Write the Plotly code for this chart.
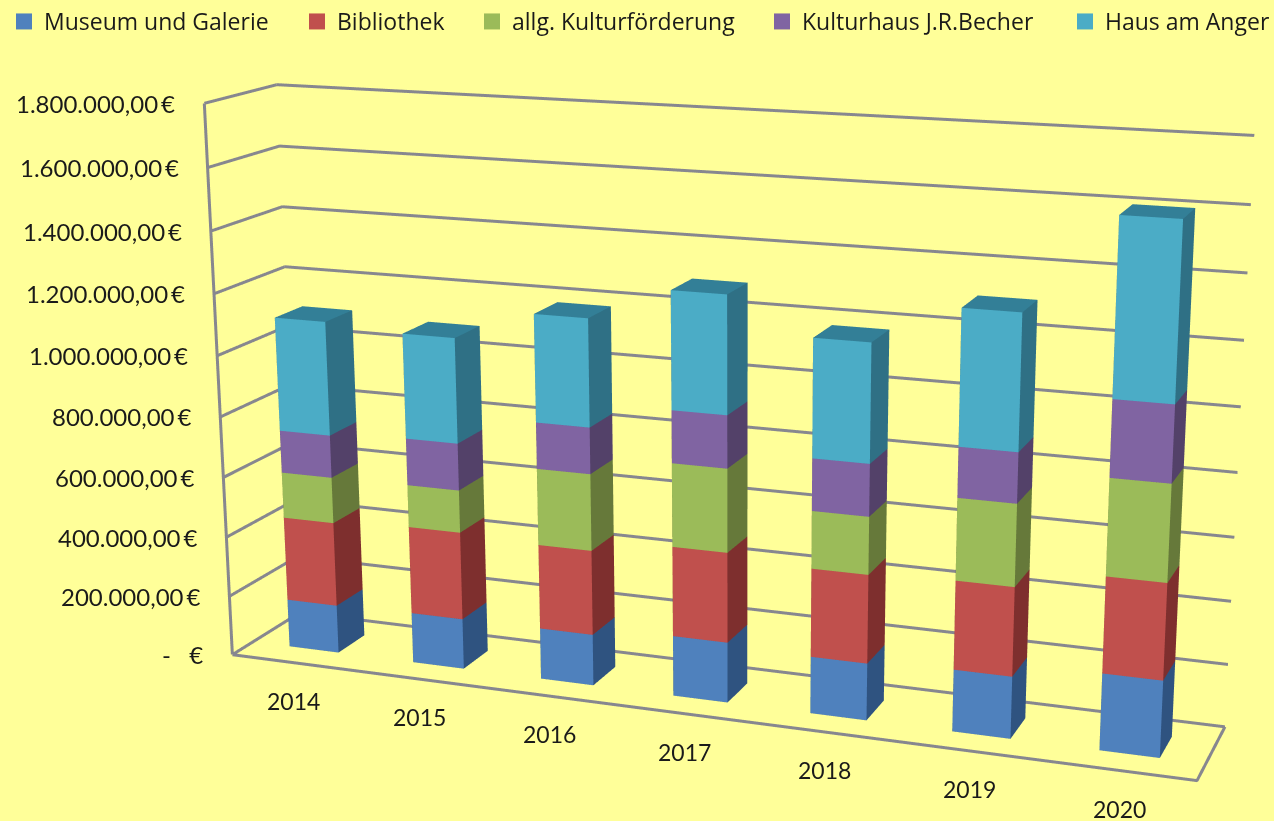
import numpy as np
import plotly.graph_objects as go

years = ["2014","2015","2016","2017","2018","2019","2020"]
museum = [161000,167000,168000,196000,183000,197000,241000]
bibliothek = [280000,289000,276000,290000,282000,280000,299000]
kultur = [152000,139000,248000,267000,182000,256000,298000]
becher = [140000,153000,149000,167000,164000,156000,234000]
anger = [372000,340000,344000,372000,370000,416000,533000]
names = ["Museum und Galerie","Bibliothek","allg. Kulturförderung","Kulturhaus J.R.Becher","Haus am Anger"]
series = [museum,bibliothek,kultur,becher,anger]
front = ["#4F81BD","#C0504D","#9BBB59","#8064A2","#4BACC6"]
side = ["#2F5380","#7E2F2E","#66793A","#534169","#2F7085"]
top = ["#3A6596","#96403D","#7C9647","#664F82","#337F97"]
ticks = [0,200000,400000,600000,800000,1000000,1200000,1400000,1600000,1800000]
ticktext = ["-   €","200.000,00\u2009€","400.000,00\u2009€","600.000,00\u2009€","800.000,00\u2009€","1.000.000,00\u2009€","1.200.000,00\u2009€","1.400.000,00\u2009€","1.600.000,00\u2009€","1.800.000,00\u2009€"]
legend_text_x = [44,337,512,802,1105]

# Plotly's 3D camera has a fixed 45 degree field of view; the reference has a much
# narrower one, so the scene is drawn larger and the 1274x821 window shows the part needed.
WW,HH,ox,oy = 1672,2254,-99,-692
aspect = (1.7522,0.2517,1)
eye = (1.5647,-4.1881,1.1605)
center = (0.0469,0.0062,-0.0375)
up = (-0.0013,0,1)

bw = 0.40
y0,y1 = 0.30,0.70

def pax(v): return (v-ox)/WW
def pay(v): return 1-(v-oy)/HH

fig = go.Figure()
base = np.zeros(len(years))
for s,vals in enumerate(series):
    vals = np.array(vals,float)
    X,Y,Z,I,J,K,FC = [],[],[],[],[],[],[]
    for i in range(len(years)):
        x0,x1 = i+.5-bw/2,i+.5+bw/2
        z0,z1 = base[i],base[i]+vals[i]
        n = len(X)
        X += [x0,x1,x1,x0,x0,x1,x1,x0]
        Y += [y0,y0,y1,y1,y0,y0,y1,y1]
        Z += [z0,z0,z0,z0,z1,z1,z1,z1]
        quads = [((0,1,5,4),front[s]),((1,2,6,5),side[s]),((4,5,6,7),top[s]),
                 ((3,2,6,7),side[s]),((0,3,7,4),side[s]),((0,1,2,3),side[s])]
        for q,c in quads:
            I += [n+q[0],n+q[0]]; J += [n+q[1],n+q[2]]; K += [n+q[2],n+q[3]]; FC += [c,c]
    fig.add_trace(go.Mesh3d(x=X,y=Y,z=Z,i=I,j=J,k=K,facecolor=FC,flatshading=True,name=names[s],
        showlegend=False,hoverinfo="skip",
        lighting=dict(ambient=1,diffuse=0,specular=0,fresnel=0,roughness=1)))
    base += vals

# walls and floor edges, from the axis ticks and ranges
nx = len(years)
gx,gy,gz = [],[],[]
for t in ticks:
    gx += [0,0,nx,None]; gy += [0,1,1,None]; gz += [t,t,t,None]
gx += [0,0,None,0,nx,nx]; gy += [0,0,None,0,0,1]; gz += [0,ticks[-1],None,0,0,0]
fig.add_trace(go.Scatter3d(x=gx,y=gy,z=gz,mode="lines",line=dict(color="#87878F",width=6),showlegend=False,hoverinfo="skip"))

legs = {}
for s,n in enumerate(names):
    key = "legend" if s==0 else f"legend{s+1}"
    fig.add_trace(go.Scatter3d(x=[None],y=[None],z=[None],mode="markers",name=n,legend=key,showlegend=True,
        marker=dict(size=16,symbol="square",color=front[s])))
    legs[key] = dict(x=pax(legend_text_x[s]-40),y=pay(0),xanchor="left",yanchor="top",
        font=dict(family="Open Sans",size=23,color="#1a1a1a"),bgcolor="rgba(0,0,0,0)")

ann = []
for t,tt in zip(ticks,ticktext):
    ann.append(dict(x=0,y=0,z=t,text=tt,showarrow=False,xanchor="right",yanchor="middle",xshift=-27,
        font=dict(family="Lato",size=24,color="#1a1a1a")))
for i,yr in enumerate(years):
    ann.append(dict(x=i+.5,y=0,z=0,text=yr,showarrow=False,xanchor="center",yanchor="middle",yshift=-38,
        font=dict(family="Lato",size=23,color="#1a1a1a")))
ax3 = dict(showbackground=False,showticklabels=False,title="",showspikes=False,zeroline=False,ticks="",showgrid=False,showline=False)
fig.update_layout(width=WW,height=HH,margin=dict(l=0,r=0,t=0,b=0),paper_bgcolor="#FFFF99",showlegend=True,
    scene=dict(domain=dict(x=[0,1],y=[0,1]),aspectmode="manual",
        aspectratio=dict(x=aspect[0],y=aspect[1],z=aspect[2]),
        camera=dict(eye=dict(x=eye[0],y=eye[1],z=eye[2]),center=dict(x=center[0],y=center[1],z=center[2]),
            up=dict(x=up[0],y=up[1],z=up[2]),projection=dict(type="perspective")),
        xaxis=dict(range=[0,nx],**ax3),
        yaxis=dict(range=[0,1],**ax3),
        zaxis=dict(range=[0,ticks[-1]],tickvals=ticks,**ax3),
        annotations=ann),**legs)
post = f"var g=document.getElementById('{{plot_id}}');g.style.position='absolute';g.style.left='{ox}px';g.style.top='{oy}px';document.body.style.margin='0';document.body.style.overflow='hidden';document.documentElement.style.overflow='hidden';"
fig.write_html("out.html",config=dict(displayModeBar=False),post_script=post)
